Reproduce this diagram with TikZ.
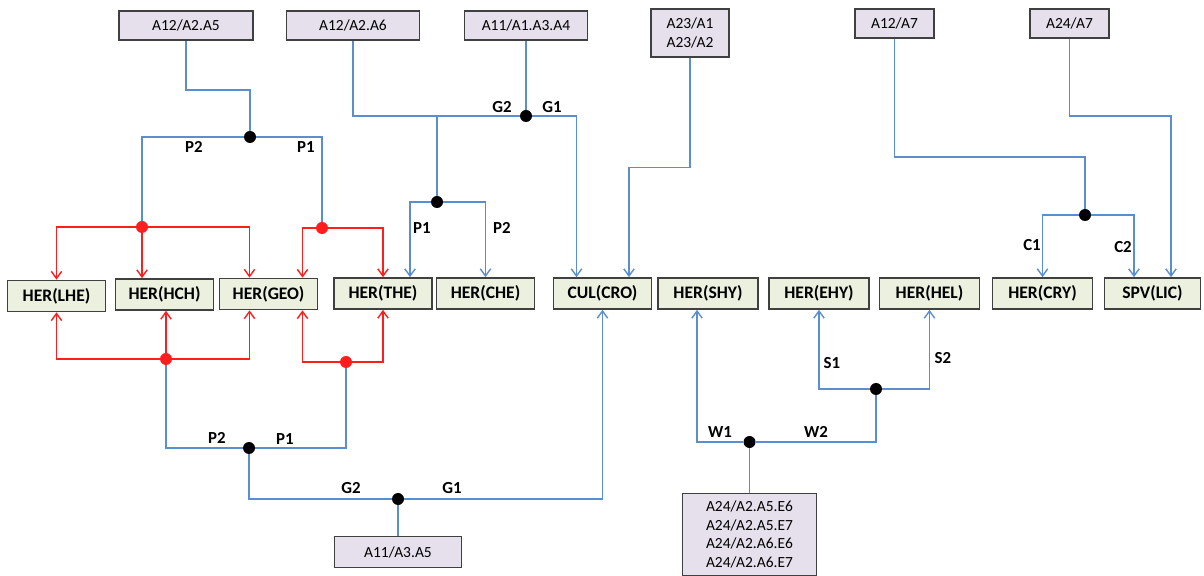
\documentclass[tikz,border=0pt]{standalone}
\usepackage{fontspec}
\setmainfont{Carlito}
\usetikzlibrary{arrows.meta, calc, positioning}

\definecolor{wireblue}{RGB}{91,142,206}
\definecolor{srcfill}{RGB}{229,224,236}
\definecolor{catfill}{RGB}{235,241,222}
\definecolor{edgegray}{RGB}{64,64,64}
\definecolor{hotred}{RGB}{255,30,30}

\begin{document}
\begin{tikzpicture}[
    x=0.025cm, y=-0.025cm,
    source/.style={
        draw=edgegray,
        line width=1pt,
        fill=srcfill,
        minimum height=0.73cm,
        inner sep=2pt,
        align=center,
        font=\fontsize{11}{13.3}\selectfont
    },
    category/.style={
        draw=edgegray,
        line width=1pt,
        fill=catfill,
        minimum width=2.45cm,
        minimum height=0.78cm,
        inner sep=2pt,
        font=\bfseries\fontsize{12.5}{14}\selectfont
    },
    wire/.style={
        draw=wireblue,
        line width=1pt
    },
    wirearrow/.style={
        wire,
        -{Straight Barb[length=1.8mm, width=2.6mm]}
    },
    redarrow/.style={
        draw=hotred,
        line width=1pt,
        -{Straight Barb[length=1.8mm, width=2.6mm]}
    },
    junction/.style={
        circle,
        fill=black,
        inner sep=0pt,
        minimum size=3mm
    },
    redjunction/.style={
        junction,
        fill=hotred
    },
    tag/.style={
        font=\bfseries\fontsize{12}{13}\selectfont
    }
]

    \useasboundingbox (0,0) rectangle (1204,576);

    % Sources on top
    \node [source, minimum width=3.35cm] (a12a5) at (186,25.5) {A12/A2.A5};
    \node [source, minimum width=3.33cm] (a12a6) at (353,25.5) {A12/A2.A6};
    \node [source, minimum width=3.08cm] (a11a4) at (526,25.5) {A11/A1.A3.A4};
    \node [source, minimum width=1.95cm, minimum height=1.2cm] (a23) at (690,33) {A23/A1\\A23/A2};
    \node [source, minimum width=1.98cm] (a12a7) at (894.5,23.5) {A12/A7};
    \node [source, minimum width=1.98cm] (a24a7) at (1069.5,23.5) {A24/A7};

    % Sources at the bottom
    \node [source, minimum width=3.18cm, minimum height=0.78cm] (a11a5) at (398,552) {A11/A3.A5};
    \node [source, minimum width=3.35cm, anchor=north, inner ysep=5pt] (a24e) at (749.5,493)
        {A24/A2.A5.E6\\A24/A2.A5.E7\\A24/A2.A6.E6\\A24/A2.A6.E7};

    % Categories
    \node [category] (lhe) at (56.5,296) {HER(LHE)};
    \node [category] (hch) at (164.5,294.5) {HER(HCH)};
    \node [category] (geo) at (268.5,294) {HER(GEO)};
    \node [category] (the) at (383,293.5) {HER(THE)};
    \node [category] (che) at (485.5,293.5) {HER(CHE)};
    \node [category] (cro) at (602.5,293.5) {CUL(CRO)};
    \node [category, minimum width=2.5cm] (shy) at (708,293.5) {HER(SHY)};
    \node [category, minimum width=2.5cm] (ehy) at (819,293.5) {HER(EHY)};
    \node [category, minimum width=2.5cm] (hel) at (929.5,293.5) {HER(HEL)};
    \node [category, minimum width=2.5cm] (cry) at (1042.5,293.5) {HER(CRY)};
    \node [category, minimum width=2.4cm] (lic) at (1152.5,293.5) {SPV(LIC)};

    % Junctions
    \node [junction] (jA) at (250,137) {};
    \node [redjunction] (rA) at (142,227) {};
    \node [redjunction] (rB) at (322,228) {};
    \node [redjunction] (rC) at (166,359) {};
    \node [redjunction] (rD) at (346,362) {};
    \node [junction] (jB) at (249,448) {};
    \node [junction] (jC) at (398,499) {};
    \node [junction] (jD) at (526,116) {};
    \node [junction] (jE) at (437,202) {};
    \node [junction] (jF) at (1085,215) {};
    \node [junction] (jG) at (749.5,442) {};
    \node [junction] (jH) at (876,389) {};

    % Upper left tree
    \draw [wire] (a12a5.south) -- ++(0,49) -| (jA);
    \draw [wire] (rA) |- (jA) -| (rB);
    \draw [redarrow] (rA) -| (lhe.north);
    \draw [redarrow] (rA) -- (rA |- hch.north);
    \draw [redarrow] (rA) -| ($(geo.north)+(-19,0)$);
    \draw [redarrow] (rB) -| ($(geo.north)+(34,0)$);
    \draw [redarrow] (rB) -| (the.north);
    \node [tag] (tP2a) at (194,147) {P2};
    \node [tag] (tP1a) at (306,147) {P1};

    % Lower left tree
    \draw [redarrow] (rC) -| (lhe.south);
    \draw [redarrow] (rC) -- (rC |- hch.south);
    \draw [redarrow] (rC) -| ($(geo.south)+(-19,0)$);
    \draw [redarrow] (rD) -| ($(geo.south)+(34,0)$);
    \draw [redarrow] (rD) -| (the.south);
    \draw [wire] (rC) |- (jB) -| (rD);
    \draw [wire] (jB) |- (jC);
    \draw [wirearrow] (jC) -| (cro.south);
    \draw [wire] (jC) -- (a11a5.north);
    \node [tag] (tP2b) at (217,438) {P2};
    \node [tag] (tP1b) at (285,439) {P1};
    \node [tag] (tG2b) at (351,488) {G2};
    \node [tag] (tG1b) at (452,488) {G1};

    % Middle tree
    \draw [wire] (a12a6.south) |- (jD);
    \draw [wire] (a11a4.south) -- (jD);
    \draw [wirearrow] (jD) -| ($(cro.north)+(-26,0)$);
    \draw [wire] (jE) -- (jE |- jD);
    \draw [wirearrow] (jE) -| ($(the.north)+(27,0)$);
    \draw [wirearrow] (jE) -| (che.north);
    \draw [wirearrow] (a23.south) -- ++(0,110) -| ($(cro.north)+(26.5,0)$);
    \node [tag] (tG2a) at (502,107) {G2};
    \node [tag] (tG1a) at (552,107) {G1};
    \node [tag] (tP1c) at (422,228) {P1};
    \node [tag] (tP2c) at (502,228) {P2};

    % Right trees
    \draw [wire] (a12a7.south) -- ++(0,118) -| (jF);
    \draw [wirearrow] (jF) -| (cry.north);
    \draw [wirearrow] (jF) -| ($(lic.north)+(-18.5,0)$);
    \draw [wirearrow] (a24a7.south) -- ++(0,77) -| ($(lic.north)+(18.5,0)$);
    \node [tag] (tC1) at (1032,245) {C1};
    \node [tag] (tC2) at (1123,247) {C2};

    % Bottom right tree
    \draw [wire] (a24e.north) -- (jG);
    \draw [wirearrow] (jG) -| ($(shy.south)+(-11,0)$);
    \draw [wire] (jG) -| (jH);
    \draw [wirearrow] (jH) -| (ehy.south);
    \draw [wirearrow] (jH) -| (hel.south);
    \node [tag] (tW1) at (720,432) {W1};
    \node [tag] (tW2) at (816,432) {W2};
    \node [tag] (tS1) at (832,363) {S1};
    \node [tag] (tS2) at (943,358) {S2};

\end{tikzpicture}
\end{document}
